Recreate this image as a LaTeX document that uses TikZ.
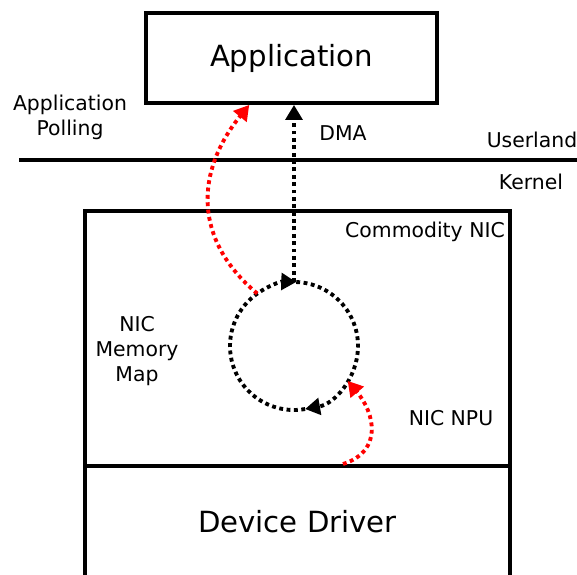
\documentclass[tikz,border=0pt]{standalone}
\usepackage{fontspec}
\setmainfont{DejaVu Sans}
\usetikzlibrary{arrows.meta,calc}

\begin{document}
\begin{tikzpicture}[
        every node/.style={font=\fontsize{11.6}{14.2}\selectfont},
        box/.style={
            draw,
            line width=2.2pt,
            font=\fontsize{16.6}{20}\selectfont
        },
        desc/.style={
            align=center
        },
        flow/.style={dotted, line width=2.2pt, -{Triangle[length=8.5pt,width=9.5pt]}},
        poll/.style={flow, red}
    ]

    \useasboundingbox (0,0) rectangle (11.54,-11.5);

    % Boxes
    \node[box, minimum width=5.82cm, minimum height=1.8cm] (app) at (5.83,-1.16) {Application};
    \node[box, minimum width=8.5cm, minimum height=5.1cm] (nic) at (5.95,-6.77) {};
    \node[box, minimum width=8.5cm, minimum height=2.24cm] (driver) at (5.95,-10.44) {Device Driver};

    % Userland / kernel split
    \coordinate (split west) at (0.38,-3.2);
    \coordinate (split east) at (11.6,-3.2);
    \draw[line width=2.2pt] (split west) -- (split east);

    % Memory map ring
    \node[circle, minimum size=2.56cm, inner sep=0pt, outer sep=0pt] (memmap) at (5.88,-6.92) {};
    \draw[flow] (memmap.280) arc[start angle=280, end angle=88, radius=1.28cm];
    \draw[flow] (memmap.88) arc[start angle=88, end angle=-80, radius=1.28cm];

    % Arrows
    \draw[flow] (memmap.north) -- (memmap.north |- app.south);
    \draw[poll] (memmap.125) to[out=140, in=231, looseness=1.15] (app.228);
    \draw[poll] ($(driver.north)+(0.91,0)$) to[out=18, in=310, looseness=1.3] (memmap.-33);

    % Labels
    \node[desc] (polling) at (1.4,-2.34) {Application\\Polling};
    \node[desc] (dma) at (6.86,-2.66) {DMA};
    \node[desc] (userland) at (10.64,-2.8) {Userland};
    \node[desc] (kernel) at (10.62,-3.64) {Kernel};
    \node[desc] (nictitle) at (8.5,-4.64) {Commodity NIC};
    \node[desc] (maplabel) at (2.74,-7.02) {NIC\\Memory\\Map};
    \node[desc] (npu) at (9.02,-8.36) {NIC NPU};

\end{tikzpicture}
\end{document}
